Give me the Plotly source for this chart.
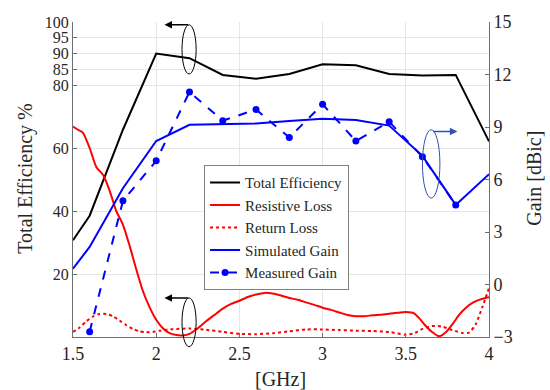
import plotly.graph_objects as go

# ---- data ----
eff_f = [1.5, 1.6, 1.8, 2.0, 2.2, 2.4, 2.6, 2.8, 3.0, 3.2, 3.4, 3.6, 3.8, 4.0]
eff_v = [30.7, 38.5, 65.8, 90.0, 88.5, 83.2, 82.0, 83.5, 86.6, 86.3, 83.5, 83.0, 83.2, 62.1]

sim_f = [1.5, 1.6, 1.8, 2.0, 2.2, 2.4, 2.6, 2.8, 3.0, 3.2, 3.4, 3.6, 3.8, 4.0]
sim_g = [0.9, 2.15, 5.5, 8.2, 9.13, 9.18, 9.2, 9.35, 9.47, 9.4, 9.08, 7.35, 4.55, 6.3]

meas_f = [1.6, 1.8, 2.0, 2.2, 2.4, 2.6, 2.8, 3.0, 3.2, 3.4, 3.6, 3.8]
meas_g = [-2.7, 4.78, 7.07, 11.0, 9.36, 10.0, 8.4, 10.3, 8.2, 9.3, 7.3, 4.55]

res_f = [1.50, 1.53, 1.56, 1.60, 1.64, 1.68, 1.72, 1.76, 1.80, 1.84, 1.88, 1.92, 1.96,
         2.00, 2.04, 2.08, 2.12, 2.16, 2.20, 2.25, 2.30, 2.35, 2.40, 2.45, 2.50, 2.55,
         2.60, 2.65, 2.70, 2.75, 2.80, 2.85, 2.90, 2.95, 3.00, 3.05, 3.10, 3.15, 3.20,
         3.25, 3.30, 3.35, 3.40, 3.45, 3.50, 3.55, 3.58, 3.62, 3.66, 3.70, 3.74, 3.78,
         3.82, 3.86, 3.90, 3.94, 3.98, 4.00]
res_v = [66.8, 65.8, 64.8, 60.0, 54.0, 51.5, 46.5, 40.0, 35.7, 29.0, 21.5, 14.6, 9.5,
         5.5, 2.8, 1.2, 0.6, 0.5, 1.0, 2.8, 5.0, 7.0, 9.0, 10.5, 11.5, 12.7,
         13.5, 14.0, 13.8, 13.2, 12.4, 11.8, 11.0, 10.2, 9.3, 8.6, 7.8, 7.0, 6.6,
         6.6, 6.9, 7.1, 7.4, 7.7, 7.9, 7.5, 6.0, 3.5, 1.5, 0.2, 1.5, 4.0,
         7.0, 9.2, 10.8, 11.8, 12.4, 12.6]

ret_f = [1.50, 1.54, 1.58, 1.62, 1.66, 1.70, 1.74, 1.78, 1.82, 1.86, 1.90, 1.94, 1.98,
         2.02, 2.10, 2.20, 2.30, 2.40, 2.50, 2.60, 2.70, 2.80, 2.90, 3.00, 3.10, 3.20,
         3.30, 3.40, 3.50, 3.55, 3.60, 3.66, 3.72, 3.78, 3.84, 3.88, 3.92, 3.96, 4.00]
ret_v = [1.6, 3.0, 5.0, 6.5, 7.3, 7.3, 6.6, 5.2, 3.8, 2.6, 1.8, 1.5, 1.6,
         2.0, 2.5, 2.7, 2.3, 1.6, 1.0, 0.9, 1.2, 1.8, 2.4, 2.4, 2.2, 2.0,
         1.9, 1.6, 0.7, 1.2, 2.6, 3.5, 3.3, 2.2, 1.3, 1.4, 4.0, 9.5, 15.5]

x_ticks = [1.5, 2, 2.5, 3, 3.5, 4]
x_ticktext = ["1.5", "2", "2.5", "3", "3.5", "4"]
y_ticks = [20, 40, 60, 80, 85, 90, 95, 100]
y2_ticks = [-3, 0, 3, 6, 9, 12, 15]

FONT = "Liberation Serif, Times New Roman, DejaVu Serif, serif"
TXT = "#262626"

fig = go.Figure()
fig.add_trace(go.Scatter(x=eff_f, y=eff_v, mode="lines", name="Total Efficiency",
                         line=dict(color="black", width=2)))
fig.add_trace(go.Scatter(x=res_f, y=res_v, mode="lines", name="Resistive Loss",
                         line=dict(color="#ff0000", width=2, shape="spline", smoothing=0.6)))
fig.add_trace(go.Scatter(x=ret_f, y=ret_v, mode="lines", name="Return Loss",
                         line=dict(color="#ff0000", width=2, dash="dot", shape="spline", smoothing=0.6)))
fig.add_trace(go.Scatter(x=sim_f, y=sim_g, mode="lines", name="Simulated Gain", yaxis="y2",
                         line=dict(color="#0000ff", width=2)))
fig.add_trace(go.Scatter(x=meas_f, y=meas_g, mode="lines+markers", name="Measured Gain", yaxis="y2",
                         line=dict(color="#0000ff", width=2, dash="dash"),
                         marker=dict(color="#0000ff", size=7)))

# ellipses (paper coords so they are not clipped)
def px(xv):
    return (xv - 1.5) / 2.5
def py(yv):
    return yv / 100.0

shapes = [
    dict(type="circle", xref="paper", yref="paper", x0=px(2.155), x1=px(2.24),
         y0=py(83.5), y1=py(99.1), line=dict(color="black", width=1)),
    dict(type="circle", xref="paper", yref="paper", x0=px(2.155), x1=px(2.24),
         y0=py(-3.1), y1=py(12.4), line=dict(color="black", width=1)),
    dict(type="circle", xref="paper", yref="paper", x0=px(3.60), x1=px(3.705),
         y0=py(44.1), y1=py(65.8), line=dict(color="#3050c0", width=1)),
]

annotations = [
    dict(x=2.05, y=99.1, ax=2.2, ay=99.1, xref="x", yref="y", axref="x", ayref="y",
         showarrow=True, arrowhead=2, arrowsize=1, arrowwidth=1.5, arrowcolor="black", text=""),
    dict(x=2.05, y=12.4, ax=2.2, ay=12.4, xref="x", yref="y", axref="x", ayref="y",
         showarrow=True, arrowhead=2, arrowsize=1, arrowwidth=1.5, arrowcolor="black", text=""),
    dict(x=3.81, y=65.2, ax=3.655, ay=65.2, xref="x", yref="y", axref="x", ayref="y",
         showarrow=True, arrowhead=2, arrowsize=1, arrowwidth=1.5, arrowcolor="#3050c0", text=""),
    dict(text="Total Efficiency %", textangle=-90, xref="paper", yref="paper",
         x=-0.115, y=0.503, xanchor="center", yanchor="middle", showarrow=False,
         font=dict(family=FONT, size=20, color=TXT)),
    dict(text="Gain [dBic]", textangle=-90, xref="paper", yref="paper",
         x=1.106, y=0.503, xanchor="center", yanchor="middle", showarrow=False,
         font=dict(family=FONT, size=20, color=TXT)),
    dict(text="[GHz]", xref="paper", yref="paper", x=0.499, y=-0.133,
         xanchor="center", yanchor="middle", showarrow=False,
         font=dict(family=FONT, size=20, color=TXT)),
]

axis_common = dict(showline=True, linecolor="#6f6f6f", linewidth=1, ticks="inside",
                   ticklen=4, tickcolor="#6f6f6f", zeroline=False)

fig.update_layout(
    width=550, height=390,
    margin=dict(l=73, r=61, t=15, b=53),
    plot_bgcolor="white", paper_bgcolor="white",
    font=dict(family=FONT, color=TXT),
    xaxis=dict(range=[1.5, 4], tickvals=x_ticks, ticktext=x_ticktext,
               showgrid=True, gridcolor="#e6e6e6", mirror=False,
               tickfont=dict(family=FONT, size=18, color=TXT), **axis_common),
    yaxis=dict(range=[0, 100], tickvals=y_ticks, showgrid=True, gridcolor="#e6e6e6",
               tickfont=dict(family=FONT, size=16, color=TXT), **axis_common),
    yaxis2=dict(range=[-3, 15], tickvals=y2_ticks, overlaying="y", side="right",
                showgrid=False, tickfont=dict(family=FONT, size=18, color=TXT), **axis_common),
    legend=dict(x=0.315, y=0.545, xanchor="left", yanchor="top",
                bgcolor="white", bordercolor="#808080", borderwidth=1,
                font=dict(family=FONT, size=15, color=TXT),
                tracegroupgap=0, itemwidth=30),
    shapes=shapes,
    annotations=annotations,
    showlegend=True,
)

fig.write_html("out.html")
